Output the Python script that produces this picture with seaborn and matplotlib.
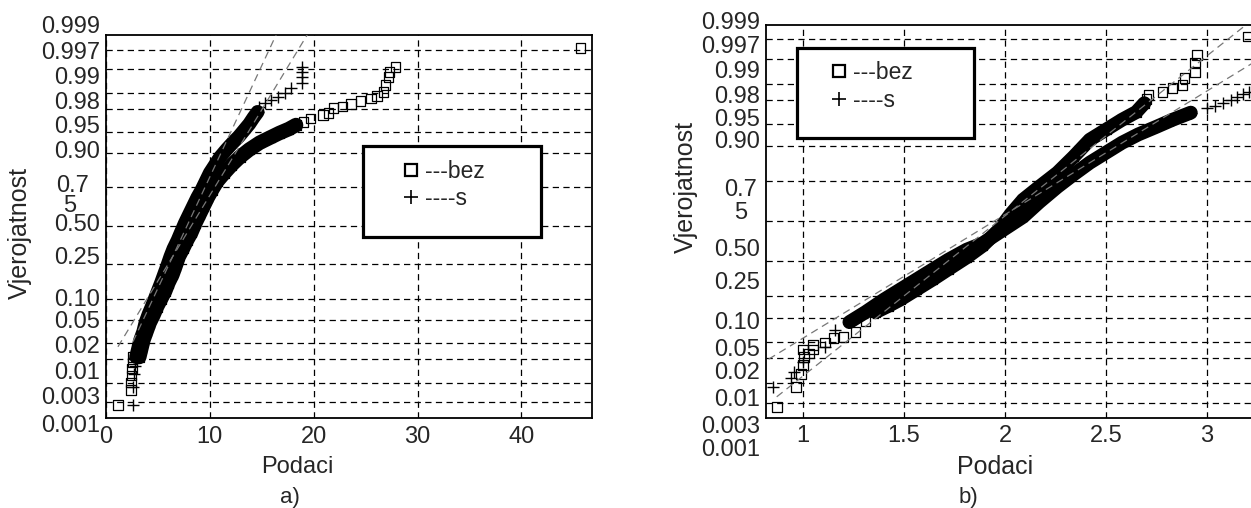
from statistics import NormalDist
import numpy as np
import matplotlib
matplotlib.use("Agg")
import matplotlib.pyplot as plt
import seaborn as sns
from matplotlib.lines import Line2D
from matplotlib.patches import Rectangle

# probability grid of the normal plot (same on both panels)
prob_levels = [0.001, 0.003, 0.01, 0.02, 0.05, 0.10, 0.25, 0.50, 0.75, 0.90, 0.95, 0.98, 0.99, 0.997, 0.999]
prob_labels = ["0.001", "0.003", "0.01", "0.02", "0.05", "0.10", "0.25", "0.50", "0.75", "0.90", "0.95", "0.98", "0.99", "0.997", "0.999"]
series_labels = ["---bez", "----s"]

# panel a), y given as normal score
bez_a_band_x = [3.2, 3.4, 3.6, 3.9, 4.2, 4.6, 4.9, 5.3, 5.7, 6.0, 6.4, 6.7, 7.0, 7.4, 7.8, 8.2, 8.6, 9.0, 9.4, 9.8,
                10.2, 10.7, 11.4, 12.1, 12.9, 13.8, 14.8, 15.8, 16.7, 17.6, 18.3]
bez_a_band_z = [-2.3, -2.15, -2.0, -1.85, -1.7, -1.55, -1.42, -1.28, -1.14, -1.0, -0.85, -0.7, -0.54, -0.4, -0.25,
                -0.12, 0.05, 0.2, 0.35, 0.5, 0.63, 0.78, 0.93, 1.07, 1.21, 1.34, 1.46, 1.55, 1.63, 1.7, 1.77]
bez_a_pts_x = [1.15, 2.4, 2.4, 2.45, 2.5, 2.55, 2.6, 19.0, 19.7, 20.9, 21.4, 21.9, 22.8, 23.6, 24.5, 25.5, 26.1,
               26.7, 26.9, 27.2, 27.3, 27.9, 45.7]
bez_a_pts_z = [-3.14, -2.88, -2.75, -2.62, -2.5, -2.4, -2.3, 1.82, 1.89, 1.95, 1.98, 2.07, 2.1, 2.14, 2.19, 2.24,
               2.28, 2.35, 2.47, 2.61, 2.7, 2.79, 3.12]
s_a_band_x = [2.9, 3.1, 3.3, 3.6, 3.8, 4.1, 4.4, 4.7, 5.0, 5.3, 5.6, 5.9, 6.2, 6.5, 6.9, 7.2, 7.6, 8.0, 8.4, 8.8,
              9.2, 9.6, 10.0, 10.5, 11.0, 11.6, 12.2, 12.8, 13.3, 13.8, 14.2, 14.6]
s_a_band_z = [-2.3, -2.15, -2.0, -1.85, -1.7, -1.55, -1.42, -1.28, -1.14, -1.0, -0.85, -0.7, -0.54, -0.4, -0.25,
              -0.12, 0.05, 0.2, 0.35, 0.5, 0.63, 0.78, 0.93, 1.07, 1.21, 1.34, 1.46, 1.57, 1.68, 1.79, 1.9, 2.0]
s_a_pts_x = [2.6, 2.6, 2.7, 2.8, 14.7, 15.3, 15.9, 16.6, 17.2, 17.8, 18.9, 18.9, 18.9, 18.9]
s_a_pts_z = [-3.14, -2.82, -2.6, -2.45, 2.08, 2.15, 2.21, 2.26, 2.33, 2.42, 2.5, 2.62, 2.7, 2.79]
bez_a_fit_x = [1.15, 19.4]
bez_a_fit_z = [-2.12, 3.36]
s_a_fit_x = [2.6, 16.4]
s_a_fit_z = [-2.03, 3.36]

# panel b)
bez_b_band_x = [1.36, 1.42, 1.48, 1.56, 1.64, 1.72, 1.81, 1.89, 1.97, 2.03, 2.09, 2.17, 2.26, 2.34, 2.42, 2.50,
                2.58, 2.65, 2.69]
bez_b_band_z = [-1.55, -1.45, -1.34, -1.17, -1.0, -0.82, -0.62, -0.42, -0.15, 0.12, 0.36, 0.58, 0.82, 1.09, 1.38,
                1.55, 1.72, 1.85, 2.0]
bez_b_pts_x = [0.871, 0.965, 0.99, 1.0, 1.005, 1.0, 1.03, 1.05, 1.05, 1.11, 1.15, 1.2, 1.26, 1.31, 2.71, 2.70,
               2.78, 2.83, 2.88, 2.89, 2.94, 2.94, 2.95, 3.20]
bez_b_pts_z = [-3.16, -2.82, -2.6, -2.45, -2.31, -2.19, -2.25, -2.19, -2.11, -2.07, -1.99, -1.97, -1.89, -1.7,
               2.14, 2.07, 2.19, 2.26, 2.31, 2.43, 2.52, 2.69, 2.82, 3.13]
s_b_band_x = [1.23, 1.31, 1.40, 1.48, 1.56, 1.64, 1.72, 1.81, 1.89, 1.97, 2.09, 2.17, 2.26, 2.34, 2.42, 2.50,
              2.58, 2.66, 2.75, 2.83, 2.92]
s_b_band_z = [-1.72, -1.55, -1.34, -1.17, -1.0, -0.83, -0.66, -0.49, -0.38, -0.2, 0.07, 0.32, 0.58, 0.79, 0.99,
              1.16, 1.33, 1.47, 1.60, 1.72, 1.84]
s_b_pts_x = [0.85, 0.94, 0.955, 1.0, 1.11, 1.16, 3.0, 3.04, 3.08, 3.12, 3.15, 3.18, 3.21]
s_b_pts_z = [-2.82, -2.67, -2.57, -2.4, -2.14, -1.85, 1.92, 1.96, 2.0, 2.05, 2.11, 2.15, 2.19]
bez_b_fit_x = [0.87, 3.2]
bez_b_fit_z = [-2.99, 3.35]
s_b_fit_x = [0.83, 3.22]
s_b_fit_z = [-2.35, 2.67]

x_ticks_a = [0, 10, 20, 30, 40]
x_ticks_b = [1, 1.5, 2, 2.5, 3]
x_ticklabels_b = ["1", "1.5", "2", "2.5", "3"]


def plot_series(ax, band_x, band_z, pts_x, pts_z, marker, lw):
    # dense part of the cloud
    sns.lineplot(x=band_x, y=band_z, sort=False, estimator=None, color="black", lw=lw, ax=ax, zorder=3,
                 solid_joinstyle="round", solid_capstyle="round")
    xs = list(band_x) + list(pts_x)
    zs = list(band_z) + list(pts_z)
    if marker == "s":
        sns.scatterplot(x=xs, y=zs, marker="s", s=46, color="black", facecolor="none",
                        edgecolor="black", linewidth=0.9, ax=ax, zorder=4)
    else:
        sns.scatterplot(x=xs, y=zs, marker="+", s=75, color="black", linewidth=1.0, ax=ax, zorder=4)


def label_prob_axis(ax, ypos, xr, seven, five):
    for lab, y in zip(prob_labels, ypos):
        if lab == "0.75":
            ax.text(seven[0], seven[1], "0.7", transform=ax.transAxes, ha="right", va="center", fontsize=17)
            ax.text(five[0], five[1], "5", transform=ax.transAxes, ha="center", va="center", fontsize=17)
        else:
            ax.text(xr, y, lab, transform=ax.transAxes, ha="right", va="center", fontsize=17)


def setup_axes(ax, xlim, ylim, xticks, xticklabels, pad):
    ax.set_xlim(*xlim)
    ax.set_ylim(*ylim)
    ax.set_yticks([NormalDist().inv_cdf(p) for p in prob_levels])
    ax.set_yticklabels([])
    ax.set_xticks(xticks)
    ax.set_xticklabels(xticklabels)
    ax.tick_params(axis="y", length=0)
    ax.tick_params(axis="x", length=0, pad=pad, labelsize=17)
    ax.grid(True, color="black", lw=0.9, ls=(0, (5, 3.5)))
    ax.set_axisbelow(True)
    for sp in ax.spines.values():
        sp.set_color("black")
        sp.set_linewidth(1.3)


def add_legend(ax, box, anchor):
    ax.add_patch(Rectangle((box[0], box[1]), box[2], box[3], transform=ax.transAxes,
                           facecolor="white", edgecolor="black", lw=2.3, zorder=6))
    handles = [Line2D([], [], marker="s", ls="none", mfc="none", mec="black", ms=9, mew=1.6),
               Line2D([], [], marker="+", ls="none", color="black", ms=10, mew=1.2)]
    leg = ax.legend(handles, series_labels, loc="upper left", bbox_to_anchor=anchor, frameon=False,
                    fontsize=16.5, handlelength=0.7, handletextpad=0.25, labelspacing=0.2,
                    borderpad=0, borderaxespad=0)
    leg.set_zorder(7)


if __name__ == "__main__":

    sns.set_style("white")
    plt.rcParams["font.family"] = ["Liberation Sans", "DejaVu Sans"]

    fig = plt.figure(figsize=(12.51, 5.08), dpi=100)
    ax_a = fig.add_axes([106 / 1251, 90 / 508, 486 / 1251, 383 / 508])
    ax_b = fig.add_axes([766 / 1251, 90 / 508, 487 / 1251, 393 / 508])

    # panel a
    setup_axes(ax_a, (0, 46.8), (-3.37, 3.35), x_ticks_a, [str(t) for t in x_ticks_a], 6)
    ax_a.plot(bez_a_fit_x, bez_a_fit_z, color="#777777", lw=0.9, ls=(0, (6, 4)), zorder=5)
    ax_a.plot(s_a_fit_x, s_a_fit_z, color="#777777", lw=0.9, ls=(0, (6, 4)), zorder=5)
    plot_series(ax_a, bez_a_band_x, bez_a_band_z, bez_a_pts_x, bez_a_pts_z, "s", 10.5)
    plot_series(ax_a, s_a_band_x, s_a_band_z, s_a_pts_x, s_a_pts_z, "+", 10)
    label_prob_axis(ax_a, [-0.021, 0.052, 0.117, 0.185, 0.251, 0.308, 0.418, 0.505, 0.605, 0.695, 0.760,
                           0.822, 0.888, 0.953, 1.021], -0.012, (-0.036, 0.605), (-0.074, 0.553))
    add_legend(ax_a, (0.529, 0.473, 0.366, 0.237), (0.611, 0.674))
    ax_a.set_xlabel("Podaci", fontsize=17)
    ax_a.xaxis.set_label_coords(0.393, -0.099)
    ax_a.set_ylabel("Vjerojatnost", fontsize=18)
    ax_a.yaxis.set_label_coords(-0.152, 0.483)

    # panel b
    setup_axes(ax_b, (0.817, 3.228), (-3.35, 3.33), x_ticks_b, x_ticklabels_b, 5)
    ax_b.plot(bez_b_fit_x, bez_b_fit_z, color="#777777", lw=0.9, ls=(0, (6, 4)), zorder=5)
    ax_b.plot(s_b_fit_x, s_b_fit_z, color="#777777", lw=0.9, ls=(0, (6, 4)), zorder=5)
    plot_series(ax_b, bez_b_band_x, bez_b_band_z, bez_b_pts_x, bez_b_pts_z, "s", 10)
    plot_series(ax_b, s_b_band_x, s_b_band_z, s_b_pts_x, s_b_pts_z, "+", 10)
    label_prob_axis(ax_b, [-0.081, -0.023, 0.046, 0.115, 0.173, 0.242, 0.344, 0.427, 0.580, 0.702, 0.758,
                           0.817, 0.880, 0.944, 1.005], -0.012, (-0.018, 0.580), (-0.053, 0.522))
    add_legend(ax_b, (0.064, 0.712, 0.363, 0.229), (0.133, 0.908))
    ax_b.set_xlabel("Podaci", fontsize=18)
    ax_b.xaxis.set_label_coords(0.470, -0.094)
    ax_b.set_ylabel("Vjerojatnost", fontsize=18)
    ax_b.yaxis.set_label_coords(-0.140, 0.588)

    fig.text(290 / 1251, 11 / 508, "a)", ha="center", va="center", fontsize=16)
    fig.text(968 / 1251, 11 / 508, "b)", ha="center", va="center", fontsize=16)

    plt.savefig("out.png", dpi=100)
